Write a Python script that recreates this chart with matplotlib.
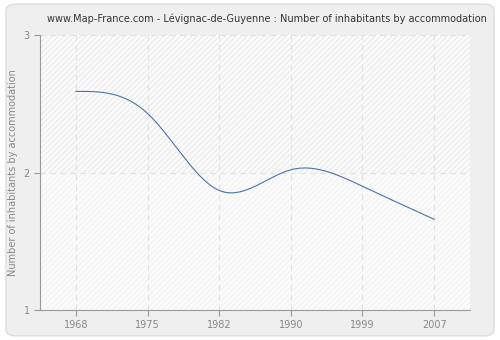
import matplotlib
matplotlib.use('Agg')
import matplotlib.pyplot as plt
from matplotlib.patches import FancyBboxPatch, Rectangle
import numpy as np

####################################################################################################
# data
####################################################################################################
years = ['1968', '1975', '1982', '1990', '1999', '2007']
values = [2.59, 2.43, 1.87, 2.02, 1.90, 1.66]
title = 'www.Map-France.com - Lévignac-de-Guyenne : Number of inhabitants by accommodation'
ylabel = 'Number of inhabitants by accommodation'


def natural_spline(x, y, n=300):
    # natural cubic spline through the points (smooth line like the original)
    x = np.asarray(x, float)
    y = np.asarray(y, float)
    k = len(x)
    h = np.diff(x)
    A = np.zeros((k, k))
    b = np.zeros(k)
    A[0, 0] = A[-1, -1] = 1
    for i in range(1, k - 1):
        A[i, i - 1] = h[i - 1]
        A[i, i] = 2 * (h[i - 1] + h[i])
        A[i, i + 1] = h[i]
        b[i] = 3 * ((y[i + 1] - y[i]) / h[i] - (y[i] - y[i - 1]) / h[i - 1])
    c = np.linalg.solve(A, b)
    xs = np.linspace(x[0], x[-1], n)
    ys = np.empty_like(xs)
    for j, xv in enumerate(xs):
        i = min(np.searchsorted(x, xv, side='right') - 1, k - 2)
        dx = xv - x[i]
        bi = (y[i + 1] - y[i]) / h[i] - h[i] * (2 * c[i] + c[i + 1]) / 3
        di = (c[i + 1] - c[i]) / (3 * h[i])
        ys[j] = y[i] + bi * dx + c[i] * dx ** 2 + di * dx ** 3
    return xs, ys


####################################################################################################
# plot
####################################################################################################
plt.rcParams['hatch.linewidth'] = 0.6

fig = plt.figure(figsize=(5, 3.4), dpi=100)
fig.patch.set_facecolor('white')
fig.patches.append(FancyBboxPatch((0.012, 0.012), 0.976, 0.976,
                                  boxstyle='round,pad=0,rounding_size=0.02',
                                  transform=fig.transFigure, facecolor='#efefef',
                                  edgecolor='#dddddd', linewidth=1, zorder=-10))

ax = fig.add_axes([0.08, 0.088, 0.86, 0.809])
ax.set_facecolor('#fbfbfb')

pos = np.arange(len(years))
ax.set_xlim(-0.5, len(years) - 0.5)
ax.set_ylim(1, 3)

# hatched background bands
ax.add_patch(Rectangle((-0.5, 2), len(years), 1, facecolor='none', edgecolor='#e6e6e6',
                       hatch='//////', linewidth=0, zorder=0))
ax.add_patch(Rectangle((-0.5, 1), len(years), 1, facecolor='none', edgecolor='#f1f1f1',
                       hatch='//////', linewidth=0, zorder=0))

xs, ys = natural_spline(pos, values)
ax.plot(xs, ys, color='#4a74a8', linewidth=0.8, zorder=3)

ax.set_xticks(pos)
ax.set_xticklabels(years)
ax.set_yticks([1, 2, 3])
ax.grid(True, color='#e2e2e2', linestyle=(0, (5, 4)), linewidth=0.8)
ax.set_axisbelow(True)

for side in ['top', 'right']:
    ax.spines[side].set_visible(False)
for side in ['left', 'bottom']:
    ax.spines[side].set_color('#999999')
ax.tick_params(colors='#999999', labelcolor='#888888', labelsize=7, length=4)

ax.set_ylabel(ylabel, color='#888888', fontsize=7)
fig.text(0.534, 0.945, title, ha='center', va='center', fontsize=7, color='#333333')

fig.savefig('out.png', dpi=100)
plt.close()
